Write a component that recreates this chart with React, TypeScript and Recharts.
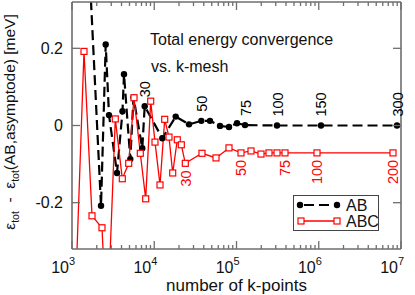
import React from 'react';
import { LineChart, Line, XAxis, YAxis, LabelList, Legend } from 'recharts';

// number of k-points and energy difference [meV]
const abN = [1565, 2253, 2569, 2818, 3525, 4111, 4288, 5115, 5595, 7154, 7654, 12530, 18230, 26460, 37330, 47630, 63000, 81050, 101400, 126900, 310800, 1065000, 8941000];
const abVal = [0.48, -0.208, 0.21, 0.027, -0.123, 0.037, 0.133, -0.087, 0.073, -0.059, 0.05, -0.033, 0.023, 0.003, 0.012, 0.012, -0.001, -0.004, 0.006, 0.001, 0, 0, 0];
const abTags = ['', '', '', '', '', '', '', '', '', '', '30', '', '', '', '50', '', '', '', '', '75', '100', '150', '300'];

const abcN = [1088, 1399, 1751, 2316, 2665, 3360, 4089, 4891, 5674, 6768, 7870, 9054, 10210, 11750, 13400, 15110, 16760, 19060, 21330, 23850, 38060, 56340, 81050, 113400, 150100, 198600, 248400, 310800, 388800, 952300, 7993000];
const abcVal = [-0.47, 0.192, -0.234, -0.265, -0.54, 0.017, -0.138, -0.098, 0.072, -0.072, -0.19, 0.063, -0.043, -0.154, 0.016, -0.03, -0.123, -0.037, -0.05, -0.098, -0.072, -0.084, -0.058, -0.071, -0.066, -0.074, -0.071, -0.071, -0.071, -0.071, -0.071];
const abcTags = ['', '', '', '', '', '', '', '', '', '', '', '', '', '', '', '', '', '', '', '30', '', '', '', '50', '', '', '', '', '75', '100', '200'];

const xTicks = [3, 4, 5, 6].flatMap((e) => [1, 2, 3, 4, 5, 6, 7, 8, 9].map((m) => m * Math.pow(10, e))).concat([1e7]);
const yTicks = [-0.2, 0, 0.2];

const abData = abN.map((n, i) => ({ n, v: abVal[i], tag: abTags[i] }));
const abcData = abcN.map((n, i) => ({ n, v: abcVal[i], tag: abcTags[i] }));

const FONT = '"Liberation Sans", Arial, Helvetica, sans-serif';
const AXIS = '#6e6e6e';
const RED = '#ff0000';

const isMajor = (v: number) => {
  const e = Math.round(Math.log10(v));
  return Math.abs(Math.pow(10, e) - v) < 1e-6 * v;
};

const BottomTick = (props: any) => {
  const { x, y, payload } = props;
  const v = payload.value;
  const major = isMajor(v);
  const exp = Math.round(Math.log10(v));
  return (
    <g>
      <line x1={x} x2={x} y1={y} y2={y - (major ? 8 : 4)} stroke={AXIS} strokeWidth={1.3} />
      {major && (
        <text x={x - 3} y={y + 24} textAnchor="end" fontSize={16} fontFamily={FONT} fill="#111">10</text>
      )}
      {major && (
        <text x={x - 3} y={y + 16} fontSize={11} fontFamily={FONT} fill="#111">{exp}</text>
      )}
    </g>
  );
};

const TopTick = (props: any) => {
  const { x, y, payload } = props;
  const major = isMajor(payload.value);
  return <line x1={x} x2={x} y1={y} y2={y + (major ? 8 : 4)} stroke={AXIS} strokeWidth={1.3} />;
};

const LeftTick = (props: any) => {
  const { x, y, payload } = props;
  return (
    <g>
      <line x1={x} x2={x + 8} y1={y} y2={y} stroke={AXIS} strokeWidth={1.3} />
      <text x={x - 9} y={y} dy="0.36em" textAnchor="end" fontSize={16} fontFamily={FONT} fill="#111">
        {String(payload.value)}
      </text>
    </g>
  );
};

const RightTick = (props: any) => {
  const { x, y } = props;
  return <line x1={x} x2={x - 8} y1={y} y2={y} stroke={AXIS} strokeWidth={1.3} />;
};

const YTitle = () => (
  <text
    x={15}
    y={122}
    transform="rotate(-90 15 122)"
    textAnchor="middle"
    fontSize={15.5}
    fontFamily={FONT}
    fill="#111"
  >
    ε<tspan dy={4} fontSize={10.5}>tot</tspan>
    <tspan dy={-4}>{'\u00a0\u00a0-\u00a0\u00a0'}ε</tspan>
    <tspan dy={4} fontSize={10.5}>tot</tspan>
    <tspan dy={-4}>(AB,asymptode) [meV]</tspan>
  </text>
);

const abTagLabel = (p: any) => {
  if (!p.value) return null;
  const tx = p.x + 5.5;
  const ty = p.y - 9;
  return (
    <text x={tx} y={ty} transform={`rotate(-90 ${tx} ${ty})`} fontSize={14.5} fontFamily={FONT} fill="#000">
      {p.value}
    </text>
  );
};

const abcTagLabel = (p: any) => {
  if (!p.value) return null;
  const tx = p.x + 5.5;
  const ty = p.y + 7;
  return (
    <text x={tx} y={ty} transform={`rotate(-90 ${tx} ${ty})`} textAnchor="end" fontSize={14.5} fontFamily={FONT} fill={RED}>
      {p.value}
    </text>
  );
};

const abDot = (p: any) => <circle key={`ab-${p.index}`} cx={p.cx} cy={p.cy} r={3.2} fill="#000" stroke="none" />;
const abcDot = (p: any) => (
  <rect key={`abc-${p.index}`} x={p.cx - 3} y={p.cy - 3} width={6} height={6} fill="#fff" stroke={RED} strokeWidth={1.2} />
);

const LegendBox = () => (
  <svg width={87} height={37} style={{ display: 'block' }}>
    <rect x={0.5} y={0.5} width={85} height={35} fill="#fff" stroke="#444" strokeWidth={1} />
    <line x1={7} x2={44} y1={10} y2={10} stroke="#000" strokeWidth={2.2} strokeDasharray="10 5" strokeDashoffset={-4} />
    <circle cx={7} cy={10} r={3.2} fill="#000" />
    <circle cx={44} cy={10} r={3.2} fill="#000" />
    <text x={53} y={16} fontSize={16} fontFamily={FONT} fill="#111">AB</text>
    <line x1={8} x2={44} y1={26} y2={26} stroke={RED} strokeWidth={1.3} />
    <rect x={5} y={23} width={6} height={6} fill="#fff" stroke={RED} strokeWidth={1.2} />
    <rect x={41} y={23} width={6} height={6} fill="#fff" stroke={RED} strokeWidth={1.2} />
    <text x={53} y={32} fontSize={16} fontFamily={FONT} fill="#111">ABC</text>
  </svg>
);

export default function App() {
  return (
    <div style={{ position: 'absolute', left: 0, top: 0, width: 415, height: 295, background: '#fff', fontFamily: FONT }}>
      <LineChart width={415} height={295} margin={{ top: 1, right: 0, bottom: 0, left: 0 }}>
        <XAxis
          xAxisId="b"
          dataKey="n"
          type="number"
          scale="log"
          domain={[1000, 1e7]}
          allowDataOverflow
          ticks={xTicks}
          interval={0}
          tick={<BottomTick />}
          tickLine={false}
          tickSize={0}
          tickMargin={0}
          axisLine={{ stroke: AXIS, strokeWidth: 1.6 }}
          height={46}
          label={{ value: 'number of k-points', position: 'insideBottom', offset: 4, fontSize: 17, fill: '#111', fontFamily: FONT }}
        />
        <XAxis
          xAxisId="t"
          orientation="top"
          dataKey="n"
          type="number"
          scale="log"
          domain={[1000, 1e7]}
          allowDataOverflow
          ticks={xTicks}
          interval={0}
          tick={<TopTick />}
          tickLine={false}
          tickSize={0}
          tickMargin={0}
          axisLine={{ stroke: AXIS, strokeWidth: 1.6 }}
          height={1}
        />
        <YAxis
          yAxisId="l"
          type="number"
          domain={[-0.32, 0.32]}
          allowDataOverflow
          ticks={yTicks}
          interval={0}
          tick={<LeftTick />}
          tickLine={false}
          tickSize={0}
          tickMargin={0}
          axisLine={{ stroke: AXIS, strokeWidth: 1.6 }}
          width={72}
          label={{ content: () => <YTitle /> }}
        />
        <YAxis
          yAxisId="r"
          orientation="right"
          type="number"
          domain={[-0.32, 0.32]}
          allowDataOverflow
          ticks={yTicks}
          interval={0}
          tick={<RightTick />}
          tickLine={false}
          tickSize={0}
          tickMargin={0}
          axisLine={{ stroke: AXIS, strokeWidth: 1.6 }}
          width={14}
        />
        <Line
          xAxisId="b"
          yAxisId="l"
          data={abData}
          dataKey="v"
          name="AB"
          stroke="#000"
          strokeWidth={2.2}
          strokeDasharray="10 5"
          dot={abDot}
          activeDot={false}
          isAnimationActive={false}
        >
          <LabelList dataKey="tag" content={abTagLabel} />
        </Line>
        <Line
          xAxisId="b"
          yAxisId="l"
          data={abcData}
          dataKey="v"
          name="ABC"
          stroke={RED}
          strokeWidth={1.3}
          dot={abcDot}
          activeDot={false}
          isAnimationActive={false}
        >
          <LabelList dataKey="tag" content={abcTagLabel} />
        </Line>
        <Legend
          layout="vertical"
          align="center"
          verticalAlign="middle"
          content={() => <LegendBox />}
          wrapperStyle={{ position: 'absolute', left: 293, top: 195, width: 87, height: 37 }}
        />
      </LineChart>
      <svg width={415} height={295} style={{ position: 'absolute', left: 0, top: 0, pointerEvents: 'none' }}>
        <text x={150} y={45} fontSize={16} fontFamily={FONT} fill="#111">Total energy convergence</text>
        <text x={151} y={72} fontSize={16} fontFamily={FONT} fill="#111">vs. k-mesh</text>
      </svg>
    </div>
  );
}
